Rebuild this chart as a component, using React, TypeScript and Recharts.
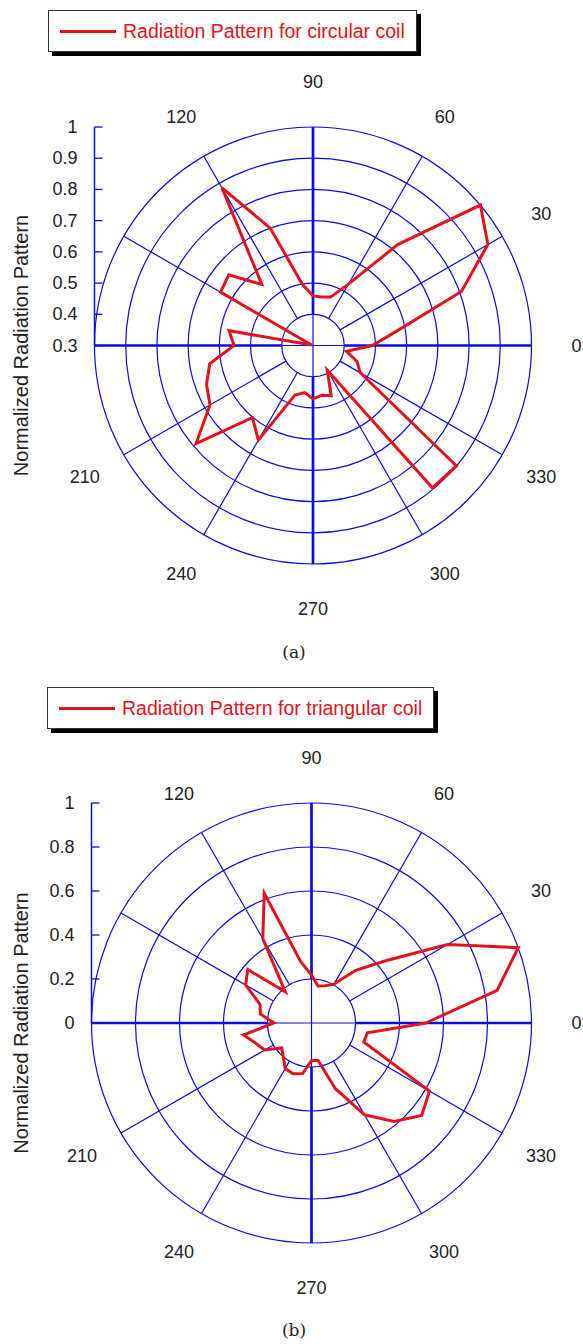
import React from 'react';
import {
  RadarChart,
  Radar,
  PolarGrid,
  PolarAngleAxis,
  PolarRadiusAxis,
  LineChart,
  YAxis,
  Legend,
} from 'recharts';

// ---- data ----
const angles = [
  0, 10, 20, 30, 40, 50, 60, 70, 80, 90, 100, 110, 120, 130, 140, 150, 160, 170,
  180, 190, 200, 210, 220, 230, 240, 250, 260, 270, 280, 290, 300, 310, 320, 330, 340, 350,
];
const circularPattern = [
  0.49, 0.575, 0.806, 0.947, 1.0, 0.722, 0.527, 0.465, 0.458, 0.459, 0.5, 0.7, 0.883, 0.555,
  0.652, 0.642, 0.305, 0.573, 0.553, 0.636, 0.663, 0.681, 0.789, 0.602, 0.65, 0.469, 0.453,
  0.471, 0.462, 0.471, 0.391, 0.895, 0.9, 0.475, 0.45, 0.409,
];
const triangularPattern = [
  0.52, 0.857, 1.0, 0.714, 0.44, 0.313, 0.204, 0.18, 0.171, 0.218, 0.283, 0.628, 0.443, 0.185,
  0.378, 0.346, 0.249, 0.236, 0.171, 0.313, 0.27, 0.246, 0.177, 0.2, 0.239, 0.246, 0.233,
  0.17, 0.173, 0.318, 0.482, 0.584, 0.654, 0.619, 0.253, 0.258,
];
const angleTicks = [0, 30, 60, 90, 120, 150, 180, 210, 240, 270, 300, 330];
const hiddenAngleLabels = [150, 180];
const thinSpokes = [30, 60, 120, 150, 210, 240, 300, 330];
const mainAxes = [0, 90, 180, 270];
const circularRadiusTicks = [0.3, 0.4, 0.5, 0.6, 0.7, 0.8, 0.9, 1];
const circularTickLabels = ['0.3', '0.4', '0.5', '0.6', '0.7', '0.8', '0.9', '1'];
const triangularRadiusTicks = [0, 0.2, 0.4, 0.6, 0.8, 1];
const triangularTickLabels = ['0', '0.2', '0.4', '0.6', '0.8', '1'];

// ---- styles ----
const BLUE = '#0c0ce2';
const RED = '#e3131b';
const TEXT = '#222';
const FONT = '"Liberation Sans", Arial, sans-serif';
const W = 583;
const H = 640;

const AngleTick = (props: any) => {
  const { x, y, payload } = props;
  const v = payload?.value;
  if (v == null || hiddenAngleLabels.includes(v) || v >= 360) return <g />;
  return (
    <text
      x={x}
      y={y}
      textAnchor="middle"
      dominantBaseline="central"
      fontSize={18}
      fontFamily={FONT}
      fill={TEXT}
    >
      {v}
    </text>
  );
};

const makeRadiusTick = (labels: string[]) => (props: any) => {
  const { x, y, index } = props;
  return (
    <g>
      <line x1={x} x2={x + 8} y1={y} y2={y} stroke={BLUE} strokeWidth={1.3} />
      <text
        x={x - 17}
        y={y}
        textAnchor="end"
        dominantBaseline="central"
        fontSize={18}
        fontFamily={FONT}
        fill={TEXT}
      >
        {labels[index]}
      </text>
    </g>
  );
};

const YTitle = (props: any) => {
  const vb = props.viewBox || { y: 0, height: 0 };
  const yc = vb.y + vb.height;
  const xc = 21;
  return (
    <text
      x={xc}
      y={yc}
      transform={`rotate(-90 ${xc} ${yc})`}
      textAnchor="middle"
      dominantBaseline="central"
      fontSize={20}
      fontFamily={FONT}
      fill={TEXT}
    >
      Normalized Radiation Pattern
    </text>
  );
};

const LegendBox = (props: any) => {
  const item = props.payload && props.payload[0];
  if (!item) return null;
  return (
    <div
      style={{
        display: 'inline-flex',
        alignItems: 'center',
        height: 42,
        boxSizing: 'border-box',
        border: '1px solid #333',
        boxShadow: '4px 4px 0 #000',
        background: '#fff',
        padding: '0 11px',
        fontFamily: FONT,
      }}
    >
      <span style={{ display: 'inline-block', width: 56, height: 3, background: item.color }} />
      <span style={{ marginLeft: 7, fontSize: 19.5, color: item.color, whiteSpace: 'nowrap' }}>
        {item.value}
      </span>
    </div>
  );
};

type PanelProps = {
  top: number;
  cx: number;
  cy: number;
  R: number;
  pattern: number[];
  name: string;
  radiusTicks: number[];
  tickLabels: string[];
  caption: string;
  captionY: number;
  legendLeft: number;
};

function Panel(p: PanelProps) {
  const data = angles.map((a, i) => ({ angle: a, value: p.pattern[i] }));
  const scaleRows = p.radiusTicks.map((t) => ({ r: t }));
  const domain: [number, number] = [p.radiusTicks[0], p.radiusTicks[p.radiusTicks.length - 1]];
  const inner = p.R / (p.radiusTicks.length - 1);
  const margin = { top: 0, right: 0, bottom: 0, left: 0 };
  const RadiusTick = makeRadiusTick(p.tickLabels);
  return (
    <div style={{ position: 'absolute', left: 0, top: p.top, width: W, height: H }}>
      {/* spokes starting at the first ring */}
      <div style={{ position: 'absolute', left: 0, top: 0 }}>
        <RadarChart
          width={W}
          height={H}
          data={data}
          cx={p.cx}
          cy={p.cy}
          innerRadius={inner}
          outerRadius={p.R}
          startAngle={0}
          endAngle={360}
          margin={margin}
        >
          <PolarGrid gridType="circle" polarAngles={thinSpokes} polarRadius={[]} stroke={BLUE} strokeWidth={1.2} />
          <PolarGrid gridType="circle" polarAngles={mainAxes} polarRadius={[]} stroke={BLUE} strokeWidth={2.7} />
        </RadarChart>
      </div>
      {/* rings, center cross, data, angle labels, legend */}
      <div style={{ position: 'absolute', left: 0, top: 0 }}>
        <RadarChart
          width={W}
          height={H}
          data={data}
          cx={p.cx}
          cy={p.cy}
          innerRadius={0}
          outerRadius={p.R}
          startAngle={0}
          endAngle={360}
          margin={margin}
        >
          <PolarGrid gridType="circle" polarAngles={mainAxes} stroke={BLUE} strokeWidth={1.2} />
          <PolarAngleAxis
            dataKey="angle"
            type="number"
            domain={[0, 360]}
            ticks={angleTicks as any}
            tickCount={13}
            axisLine={false}
            tickLine={false}
            tickSize={45}
            tick={<AngleTick />}
          />
          <PolarRadiusAxis
            type="number"
            domain={domain}
            tickCount={p.radiusTicks.length}
            allowDecimals
            axisLine={false}
            tick={false}
          />
          <Radar
            dataKey="value"
            name={p.name}
            stroke={RED}
            strokeWidth={3}
            fill="none"
            fillOpacity={0}
            dot={false}
            isAnimationActive={false}
          />
          <Legend
            content={<LegendBox />}
            wrapperStyle={{ left: p.legendLeft, top: 10, bottom: 'auto', width: 'auto' }}
          />
        </RadarChart>
      </div>
      {/* radial scale on the left */}
      <div style={{ position: 'absolute', left: 0, top: p.cy - p.R - 10 }}>
        <LineChart
          width={170}
          height={2 * p.R + 20}
          data={scaleRows}
          margin={{ top: 10, right: 0, bottom: p.R + 10, left: 0 }}
        >
          <YAxis
            type="number"
            dataKey="r"
            domain={domain}
            allowDataOverflow
            ticks={p.radiusTicks}
            interval={0}
            allowDecimals
            width={p.cx - p.R}
            axisLine={{ stroke: BLUE, strokeWidth: 1.5 }}
            tickLine={false}
            tickSize={0}
            tickMargin={0}
            tick={<RadiusTick />}
            label={{ content: <YTitle /> }}
          />
        </LineChart>
      </div>
      <div
        style={{
          position: 'absolute',
          left: 244,
          width: 100,
          top: p.captionY - 12,
          height: 24,
          lineHeight: '24px',
          textAlign: 'center',
          fontFamily: '"DejaVu Serif", "Liberation Serif", serif',
          fontSize: 17,
          color: TEXT,
        }}
      >
        {p.caption}
      </div>
    </div>
  );
}

export default function App() {
  return (
    <div style={{ position: 'absolute', left: 0, top: 0, width: W, height: 1344, background: '#fff' }}>
      <Panel
        top={0}
        cx={313}
        cy={345.5}
        R={218.5}
        pattern={circularPattern}
        name="Radiation Pattern for circular coil"
        radiusTicks={circularRadiusTicks}
        tickLabels={circularTickLabels}
        caption="(a)"
        captionY={652}
        legendLeft={48}
      />
      <Panel
        top={677}
        cx={311.5}
        cy={346}
        R={220}
        pattern={triangularPattern}
        name="Radiation Pattern for triangular coil"
        radiusTicks={triangularRadiusTicks}
        tickLabels={triangularTickLabels}
        caption="(b)"
        captionY={653}
        legendLeft={47}
      />
    </div>
  );
}
